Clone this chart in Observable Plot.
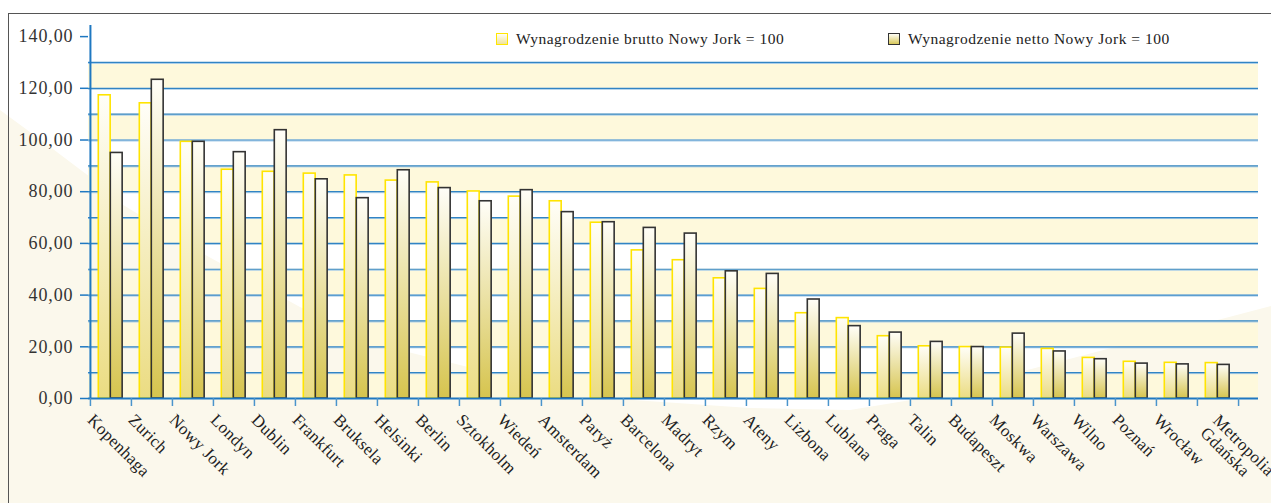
<!DOCTYPE html>
<html>
<head>
<meta charset="utf-8">
<script src="https://cdn.jsdelivr.net/npm/d3@7"></script>
<script src="https://cdn.jsdelivr.net/npm/@observablehq/plot@0.6"></script>
<style>
  html, body { margin: 0; padding: 0; background: #ffffff; overflow: hidden; }
  #wrap { position: relative; width: 1271px; height: 503px; overflow: hidden; font-family: "Liberation Serif", serif; }
  #cream { position: absolute; left: 0; top: 0; width: 1271px; height: 503px; background: #fbf8ec;
    clip-path: polygon(0px 110px, 45px 143px, 90px 177px, 120px 203px, 200px 252px, 300px 307px, 400px 350px, 520px 380px, 633px 400px, 750px 408px, 850px 410px, 917px 399px, 1271px 306px, 1271px 503px, 0px 503px); }
  #frame { position: absolute; left: 8px; top: 13px; width: 1400px; height: 600px; border-left: 1.3px solid #555; border-top: 1.3px solid #555; }
  #chart { position: absolute; left: 0; top: 0; }
  .leg { position: absolute; top: 30px; display: flex; align-items: center; font-size: 15.5px; color: #222; letter-spacing: 0.5px; }
  .sw { width: 10px; height: 10px; margin-right: 8px; }
</style>
</head>
<body>
<div id="wrap">
  <div id="cream"></div>
  <div id="frame"></div>
  <div id="chart"></div>
  <div class="leg" style="left:496px"><div class="sw" style="border:1.5px solid #ffe600;background:linear-gradient(#fffef6,#efe39a)"></div><span>Wynagrodzenie brutto Nowy Jork = 100</span></div>
  <div class="leg" style="left:888px"><div class="sw" style="border:1.5px solid #333;background:linear-gradient(#fffef6,#d8c85a)"></div><span>Wynagrodzenie netto Nowy Jork = 100</span></div>
</div>
<script>
const cities = ["Kopenhaga","Zurich","Nowy Jork","Londyn","Dublin","Frankfurt","Bruksela","Helsinki","Berlin","Sztokholm","Wiedeń","Amsterdam","Paryż","Barcelona","Madryt","Rzym","Ateny","Lizbona","Lublana","Praga","Talin","Budapeszt","Moskwa","Warszawa","Wilno","Poznań","Wrocław","Metropolia Gdańska"];
const brutto = [117.3,114.2,99.3,88.5,87.7,87.0,86.3,84.3,83.6,80.1,78.1,76.3,68.0,57.3,53.5,46.5,42.4,33.0,31.1,24.1,20.2,19.9,19.7,19.2,15.7,14.2,13.8,13.7];
const netto = [95.0,123.3,99.3,95.3,103.8,84.8,77.5,88.3,81.4,76.3,80.6,72.1,68.2,66.0,63.8,49.2,48.2,38.3,28.0,25.5,21.9,19.9,25.1,18.2,15.2,13.5,13.2,13.0];
const yTicks = [0,20,40,60,80,100,120,140];
const gridLines = [10,20,30,40,50,60,70,80,90,100,110,120,130];
const bandStarts = [0,20,40,60,80,100,120];

const rowsB = cities.map((c,i) => ({city: c, v: brutto[i]}));
const rowsN = cities.map((c,i) => ({city: c, v: netto[i]}));
const blue = "#1f78c1";
const step = (1240 - 88) / cities.length;

const plot = Plot.plot({
  width: 1271, height: 503,
  marginLeft: 88, marginRight: 13, marginTop: 25, marginBottom: 105,
  style: {background: "transparent", fontFamily: "Liberation Serif, serif", fontSize: "17px", overflow: "visible"},
  x: {type: "band", domain: cities, range: [88, 1240], padding: 0, axis: null},
  y: {domain: [0, 144.3], axis: null},
  marks: [
    Plot.rect(bandStarts, {y1: d => d, y2: d => d + 10, fill: "#fef9dc"}),
    Plot.ruleY(gridLines, {stroke: "#a9cde8", strokeWidth: 1, dy: 1}),
    Plot.ruleY(gridLines, {stroke: "#3184c4", strokeWidth: 1.2}),
    Plot.barY(rowsB, {x: "city", y: "v", fill: "url(#gB)", stroke: "#ffe400", strokeWidth: 1.6, insetLeft: 8.3, insetRight: step - 20.3}),
    Plot.barY(rowsN, {x: "city", y: "v", fill: "url(#gN)", stroke: "#333", strokeWidth: 1.6, insetLeft: 20.3, insetRight: step - 32.3}),
    Plot.ruleY([0], {stroke: blue, strokeWidth: 2}),
    Plot.ruleX(cities, {x: d => d, dx: -step / 2, y1: 0, y2: 0, stroke: "#4a94cc", strokeWidth: 1.5, insetBottom: -8}),
    Plot.ruleX(cities.slice(-1), {x: d => d, dx: step / 2, y1: 0, y2: 0, stroke: "#4a94cc", strokeWidth: 1.5, insetBottom: -8}),
    Plot.ruleX(cities.slice(0, 1), {x: d => d, dx: -step / 2, y1: 0, y2: 144.3, stroke: blue, strokeWidth: 2}),
    Plot.axisY({ticks: yTicks, tickSize: 8, tickPadding: 7, stroke: blue, fill: "#333", strokeWidth: 1.5, tickFormat: d => d.toFixed(2).replace(".", ","), fontSize: 18, label: null, className: "yax"}),
    Plot.text(cities.slice(0, -1), {x: d => d, frameAnchor: "bottom", rotate: 45, textAnchor: "start", lineAnchor: "top", dx: -16, dy: 14, fill: "#222", fontSize: 17}),
    Plot.text(cities.slice(-1), {x: d => d, text: d => d.replace(" ", "\n"), frameAnchor: "bottom", rotate: 45, textAnchor: "start", lineAnchor: "top", dx: 3, dy: 14, fill: "#222", fontSize: 17, lineHeight: 1.05})
  ]
});

const defs = d3.select(plot).insert("defs", ":first-child");
function grad(id, bottom) {
  const g = defs.append("linearGradient").attr("id", id).attr("x1", 0).attr("y1", 0).attr("x2", 0).attr("y2", 1);
  g.append("stop").attr("offset", "0%").attr("stop-color", "#fffef8");
  g.append("stop").attr("offset", "100%").attr("stop-color", bottom);
}
grad("gB", "#ebdc82");
grad("gN", "#d6c44e");
d3.select(plot).selectAll("text").style("letter-spacing", "0.3px");
d3.select(plot).selectAll("[aria-label='y-axis tick label'] text").style("letter-spacing", "0.9px");
document.getElementById("chart").appendChild(plot);
</script>
</body>
</html>
